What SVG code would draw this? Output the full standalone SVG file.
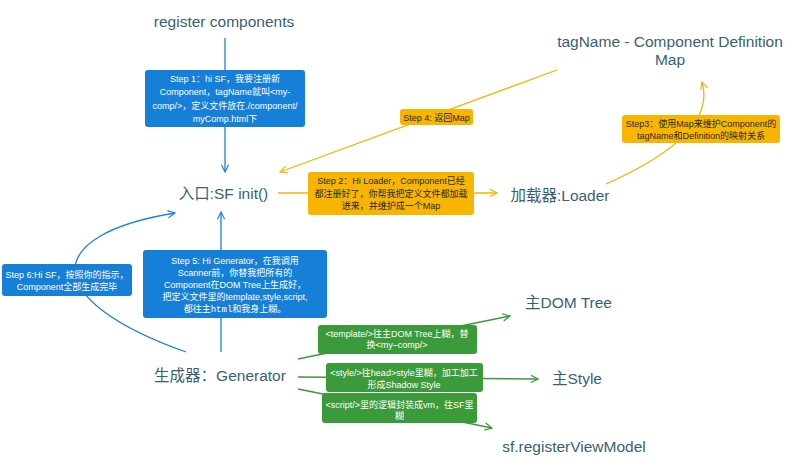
<svg xmlns="http://www.w3.org/2000/svg" width="800" height="468" viewBox="0 0 800 468">
<style>
.node{font-family:"Liberation Sans","Noto Sans CJK SC",sans-serif;font-size:15.5px;fill:#3a5f72;text-anchor:middle}
.lbl{font-family:"Liberation Sans","Noto Sans CJK SC",sans-serif;font-size:9px;text-anchor:middle}
.w{fill:#ffffff}
.d{fill:#2a2a2a}
.bl{fill:#1680d8}
.or{fill:#f7b500}
.gr{fill:#3b9a3a}
.cb{stroke:#1a82d9;stroke-width:1.3;fill:none}
.co{stroke:#f5b400;stroke-width:1.3;fill:none}
.cg{stroke:#3a9a3a;stroke-width:1.3;fill:none}
.mono{font-family:"Liberation Mono",monospace}
</style>
<defs>
<marker id="ab" viewBox="0 0 10 10" refX="9" refY="5" markerWidth="9" markerHeight="9" markerUnits="userSpaceOnUse" orient="auto"><path d="M1,1 L9,5 L1,9" fill="none" stroke="#1a82d9" stroke-width="1.3"/></marker>
<marker id="ao" viewBox="0 0 10 10" refX="9" refY="5" markerWidth="9" markerHeight="9" markerUnits="userSpaceOnUse" orient="auto"><path d="M1,1 L9,5 L1,9" fill="none" stroke="#f5b400" stroke-width="1.3"/></marker>
<marker id="ag" viewBox="0 0 10 10" refX="9" refY="5" markerWidth="9" markerHeight="9" markerUnits="userSpaceOnUse" orient="auto"><path d="M1,1 L9,5 L1,9" fill="none" stroke="#3a9a3a" stroke-width="1.3"/></marker>
</defs>

<g id="connectors">
<path class="cb" d="M225,38 L225,172" marker-end="url(#ab)"/>
<path class="co" d="M278,193 L497,193" marker-end="url(#ao)"/>
<path class="co" d="M557,70 Q450,110 280,172" marker-end="url(#ao)"/>
<path class="co" d="M606,184 C660,160 715,125 702,82" marker-end="url(#ao)"/>
<path class="cb" d="M221,352 L221,212" marker-end="url(#ab)"/>
<path class="cb" d="M186,352 C40,300 40,235 175,213" marker-end="url(#ab)"/>
<path class="cg" d="M298,359 L510,316" marker-end="url(#ag)"/>
<path class="cg" d="M298,377 L538,379" marker-end="url(#ag)"/>
<path class="cg" d="M298,389 L492,428" marker-end="url(#ag)"/>
</g>

<g id="step1">
<rect class="bl" x="145" y="70" width="160" height="57" rx="3"/>
<text class="lbl w" x="225" y="82">Step 1：hi SF，我要注册新</text>
<text class="lbl w" x="225" y="95">Component，tagName就叫&lt;my-</text>
<text class="lbl w" x="225" y="109">comp/&gt;，定义文件放在./component/</text>
<text class="lbl w" x="225" y="122">myComp.html下</text>
</g>

<g id="step2">
<rect class="or" x="308" y="172" width="166" height="43" rx="3"/>
<text class="lbl d" x="391" y="184">Step 2：Hi Loader，Component已经</text>
<text class="lbl d" x="391" y="197">都注册好了，你帮我把定义文件都加载</text>
<text class="lbl d" x="391" y="209">进来，并维护成一个Map</text>
</g>

<g id="step4">
<rect class="or" x="400" y="109" width="73" height="16" rx="3"/>
<text class="lbl d" x="436.5" y="120.5">Step 4: 返回Map</text>
</g>

<g id="step3">
<rect class="or" x="622" y="115" width="158" height="28" rx="3"/>
<text class="lbl d" x="701" y="126.5">Step3：使用Map来维护Component的</text>
<text class="lbl d" x="701" y="139">tagName和Definition的映射关系</text>
</g>

<g id="step5">
<rect class="bl" x="143" y="250" width="184" height="68" rx="3"/>
<text class="lbl w" x="235" y="263.5">Step 5: Hi Generator，在我调用</text>
<text class="lbl w" x="235" y="275.5">Scanner前，你替我把所有的</text>
<text class="lbl w" x="235" y="287.5">Component在DOM Tree上生成好，</text>
<text class="lbl w" x="235" y="299.5">把定义文件里的template,style,script,</text>
<text class="lbl w" x="235" y="311.5">都往主<tspan class="mono">html</tspan>和我身上糊。</text>
</g>

<g id="step6">
<rect class="bl" x="2" y="264" width="130" height="32" rx="3"/>
<text class="lbl w" x="67" y="277.5">Step 6:Hi SF，按照你的指示，</text>
<text class="lbl w" x="67" y="289.5">Component全部生成完毕</text>
</g>

<g id="tpl">
<rect class="gr" x="318" y="325" width="159" height="29" rx="3"/>
<text class="lbl w" x="397" y="336.5">&lt;template/&gt;往主DOM Tree上糊，替</text>
<text class="lbl w" x="397" y="348">换&lt;my–comp/&gt;</text>
</g>

<g id="sty">
<rect class="gr" x="326" y="363" width="157" height="29" rx="3"/>
<text class="lbl w" x="404" y="376">&lt;style/&gt;往head&gt;style里糊，加工加工</text>
<text class="lbl w" x="404" y="387.5">形成Shadow Style</text>
</g>

<g id="scr">
<rect class="gr" x="322" y="393" width="155" height="30" rx="3"/>
<text class="lbl w" x="399.5" y="407.5">&lt;script/&gt;里的逻辑封装成vm，往SF里</text>
<text class="lbl w" x="399.5" y="419">糊</text>
</g>

<g id="register"><text class="node" x="224" y="27">register components</text></g>
<g id="map"><text class="node" x="670" y="47">tagName - Component Definition</text><text class="node" x="670" y="65">Map</text></g>
<g id="init"><text class="node" x="223.5" y="199">入口:SF init()</text></g>
<g id="loader"><text class="node" x="560" y="201">加载器:Loader</text></g>
<g id="generator"><text class="node" x="220" y="381">生成器：Generator</text></g>
<g id="dom"><text class="node" x="568.5" y="308">主DOM Tree</text></g>
<g id="style"><text class="node" x="577" y="384">主Style</text></g>
<g id="vm"><text class="node" x="574" y="452">sf.registerViewModel</text></g>
</svg>
